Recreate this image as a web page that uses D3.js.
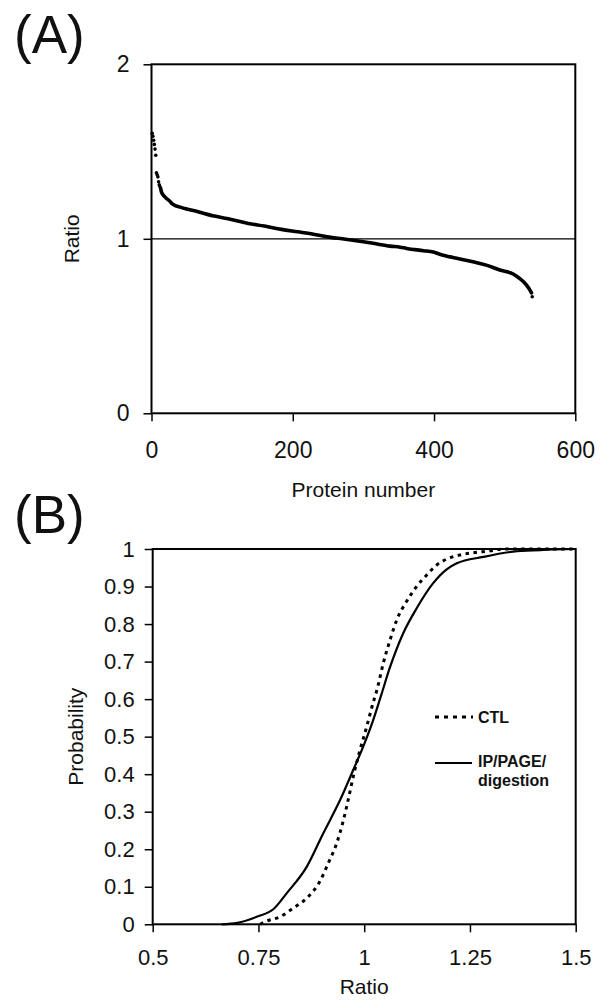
<!DOCTYPE html>
<html>
<head>
<meta charset="utf-8">
<script src="https://cdn.jsdelivr.net/npm/d3@7"></script>
<style>
  html, body { margin: 0; padding: 0; background: #fff; }
  svg { display: block; }
  text { font-family: "Liberation Sans", Arial, sans-serif; fill: #111; }
</style>
</head>
<body>
<svg id="chart" width="601" height="1007"></svg>
<script>
// ---------- Panel A data ----------
const proteinTop = [1, 2, 3, 4, 5, 6, 7, 8, 9, 10, 11, 12, 539];
const ratioTop   = [1.604, 1.588, 1.565, 1.541, 1.514, 1.479, 1.378, 1.367, 1.355, 1.327, 1.310, 1.298, 0.668];

const proteinCurve = [13, 14, 19, 26, 30, 42, 66, 89, 113, 137, 160, 184, 207, 231, 254, 270, 290, 314, 338, 352, 361, 385, 399, 408, 432, 455, 474, 493, 512, 521, 531, 536, 538];
const ratioCurve   = [1.289, 1.269, 1.24, 1.215, 1.199, 1.18, 1.155, 1.13, 1.111, 1.088, 1.073, 1.054, 1.04, 1.025, 1.008, 1.0, 0.989, 0.974, 0.958, 0.952, 0.945, 0.932, 0.924, 0.912, 0.888, 0.868, 0.849, 0.821, 0.798, 0.773, 0.735, 0.705, 0.69];

const xTicksA = [0, 200, 400, 600];
const yTicksA = [0, 1, 2];

// ---------- Panel B data ----------
const ratioCTL = [0.754, 0.766, 0.801, 0.832, 0.868, 0.895, 0.915, 0.935, 0.951, 0.962, 0.974, 0.99, 1.006, 1.021, 1.030, 1.045, 1.061, 1.077, 1.1, 1.124, 1.148, 1.171, 1.195, 1.226, 1.258, 1.297, 1.329, 1.5];
const probCTL  = [0, 0.007, 0.02, 0.043, 0.074, 0.114, 0.163, 0.216, 0.278, 0.331, 0.393, 0.464, 0.527, 0.59, 0.624, 0.695, 0.757, 0.811, 0.86, 0.9, 0.931, 0.957, 0.973, 0.984, 0.99, 0.995, 1.0, 1.0];

const ratioIP = [0.663, 0.70, 0.746, 0.785, 0.817, 0.864, 0.903, 0.943, 0.974, 1.0, 1.02, 1.04, 1.061, 1.092, 1.124, 1.163, 1.195, 1.219, 1.282, 1.352, 1.416, 1.5];
const probIP  = [0, 0.004, 0.02, 0.04, 0.083, 0.153, 0.242, 0.331, 0.411, 0.48, 0.54, 0.61, 0.685, 0.775, 0.842, 0.909, 0.946, 0.962, 0.979, 0.993, 0.997, 1.0];

const xTicksB = [0.5, 0.75, 1, 1.25, 1.5];
const yTicksB = [0, 0.1, 0.2, 0.3, 0.4, 0.5, 0.6, 0.7, 0.8, 0.9, 1];

const svg = d3.select("#chart");

// ================= Panel A =================
const xA = d3.scaleLinear().domain([0, 600]).range([151.5, 575.3]);
const yA = d3.scaleLinear().domain([0, 2]).range([413.3, 64.3]);
const gA = svg.append("g");

gA.append("text").attr("x", 14).attr("y", 53).style("font-size", "53px").text("(A)");

gA.append("rect")
  .attr("x", xA(0)).attr("y", yA(2))
  .attr("width", xA(600) - xA(0)).attr("height", yA(0) - yA(2))
  .attr("fill", "none").attr("stroke", "#000").attr("stroke-width", 2);

gA.append("line")
  .attr("x1", xA(0)).attr("x2", xA(600)).attr("y1", yA(1)).attr("y2", yA(1))
  .attr("stroke", "#000").attr("stroke-width", 1.3);

const axLA = gA.append("g").attr("transform", `translate(${xA(0)},0)`)
  .call(d3.axisLeft(yA).tickValues(yTicksA).tickSize(8).tickPadding(14).tickFormat(d3.format("d")));
const axBA = gA.append("g").attr("transform", `translate(0,${yA(0)})`)
  .call(d3.axisBottom(xA).tickValues(xTicksA).tickSize(8).tickPadding(20).tickFormat(d3.format("d")));
[axLA, axBA].forEach(a => {
  a.select(".domain").remove();
  a.selectAll(".tick line").attr("stroke", "#000").attr("stroke-width", 1.5);
  a.selectAll(".tick text").style("font-size", "23px").attr("fill", "#111");
});

gA.append("text").attr("x", (xA(0) + xA(600)) / 2).attr("y", 497)
  .attr("text-anchor", "middle").style("font-size", "21px").text("Protein number");
gA.append("text").attr("transform", `translate(79,${yA(1)}) rotate(-90)`)
  .attr("text-anchor", "middle").style("font-size", "21px").text("Ratio");

const curveA = proteinCurve.map((n, i) => [n, ratioCurve[i]]);
gA.append("path")
  .datum(curveA)
  .attr("fill", "none").attr("stroke", "#000").attr("stroke-width", 3.6)
  .attr("stroke-linecap", "round").attr("stroke-linejoin", "round")
  .attr("d", d3.line().x(d => xA(d[0])).y(d => yA(d[1])).curve(d3.curveMonotoneX));

gA.selectAll("circle.top")
  .data(proteinTop.map((n, i) => [n, ratioTop[i]]))
  .join("circle").attr("class", "top")
  .attr("cx", d => xA(d[0])).attr("cy", d => yA(d[1])).attr("r", 1.8).attr("fill", "#000");

// ================= Panel B =================
const xB = d3.scaleLinear().domain([0.5, 1.5]).range([152.7, 575.7]);
const yB = d3.scaleLinear().domain([0, 1]).range([924.3, 549]);
const gB = svg.append("g");

gB.append("text").attr("x", 14).attr("y", 533).style("font-size", "53px").text("(B)");

gB.append("rect")
  .attr("x", xB(0.5)).attr("y", yB(1))
  .attr("width", xB(1.5) - xB(0.5)).attr("height", yB(0) - yB(1))
  .attr("fill", "none").attr("stroke", "#000").attr("stroke-width", 2);

const axLB = gB.append("g").attr("transform", `translate(${xB(0.5)},0)`)
  .call(d3.axisLeft(yB).tickValues(yTicksB).tickSize(8).tickPadding(10).tickFormat(d => d3.format("")(+d.toFixed(1))));
const axBB = gB.append("g").attr("transform", `translate(0,${yB(0)})`)
  .call(d3.axisBottom(xB).tickValues(xTicksB).tickSize(8).tickPadding(17).tickFormat(d => String(d)));
[axLB, axBB].forEach(a => {
  a.select(".domain").remove();
  a.selectAll(".tick line").attr("stroke", "#000").attr("stroke-width", 1.5);
  a.selectAll(".tick text").style("font-size", "22px").attr("fill", "#111");
});

gB.append("text").attr("x", (xB(0.5) + xB(1.5)) / 2).attr("y", 994)
  .attr("text-anchor", "middle").style("font-size", "21px").text("Ratio");
gB.append("text").attr("transform", `translate(83,${(yB(0) + yB(1)) / 2}) rotate(-90)`)
  .attr("text-anchor", "middle").style("font-size", "21px").text("Probability");

const lineB = d3.line().x(d => xB(d[0])).y(d => yB(d[1])).curve(d3.curveMonotoneX);

gB.append("path")
  .datum(ratioIP.map((r, i) => [r, probIP[i]]))
  .attr("fill", "none").attr("stroke", "#000").attr("stroke-width", 2.2)
  .attr("d", lineB);

gB.append("path")
  .datum(ratioCTL.map((r, i) => [r, probCTL[i]]))
  .attr("fill", "none").attr("stroke", "#000").attr("stroke-width", 3)
  .attr("stroke-dasharray", "3.5,4.5")
  .attr("d", lineB);

// legend
gB.append("line").attr("x1", 435).attr("x2", 473).attr("y1", 717).attr("y2", 717)
  .attr("stroke", "#000").attr("stroke-width", 3).attr("stroke-dasharray", "4,5");
gB.append("text").attr("x", 478).attr("y", 723).style("font-size", "16px").style("font-weight", "bold").text("CTL");
gB.append("line").attr("x1", 435).attr("x2", 472).attr("y1", 763).attr("y2", 763)
  .attr("stroke", "#000").attr("stroke-width", 2.2);
gB.append("text").attr("x", 478).attr("y", 767).style("font-size", "16px").style("font-weight", "bold").text("IP/PAGE/");
gB.append("text").attr("x", 478).attr("y", 786).style("font-size", "16px").style("font-weight", "bold").text("digestion");
</script>
</body>
</html>
